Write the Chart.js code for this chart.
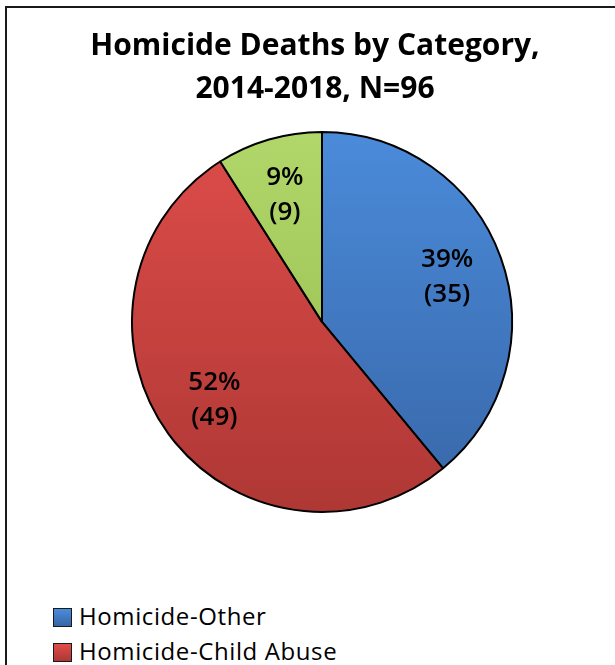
<!DOCTYPE html>
<html>
<head>
<meta charset="utf-8">
<script src="https://cdn.jsdelivr.net/npm/chart.js@4.4.0/dist/chart.umd.min.js"></script>
<style>
  html, body { margin: 0; padding: 0; background: #fff; overflow: hidden; }
  #frame { position: absolute; left: 5px; top: 6px; width: 616px; height: 701px; border: 2px solid #1a1a1a; }
  #frame canvas { display: block; }
  #legend { position: absolute; left: 46px; top: 590px; font-family: 'Open Sans'; font-size: 24px; letter-spacing: 0.6px; color: #000; }
  #legend .item { display: flex; align-items: center; height: 35px; white-space: nowrap; }
  #legend .box { width: 17px; height: 17px; border: 1px solid #1a1a1a; margin-right: 7px; margin-top: 3px; }
</style>
</head>
<body>
<div id="frame">
  <canvas id="chart" width="616" height="515"></canvas>
  <div id="legend"></div>
</div>
<script>
// data (third category is cut off in the legend)
var categories = ['Homicide-Other', 'Homicide-Child Abuse', 'Homicide-Unknown'];
var percents = [39, 52, 9];
var counts = [35, 49, 9];

// top / bottom shades of each slice
var topColors = ['#4b8cdb', '#df4d4a', '#b2d86c'];
var bottomColors = ['#3765a6', '#ad3734', '#92b748'];

function sliceFill(context) {
    var i = context.dataIndex;
    var area = context.chart.chartArea;
    if (!area) return topColors[i];
    var g = context.chart.ctx.createLinearGradient(0, area.top, 0, area.bottom);
    g.addColorStop(0, topColors[i]);
    g.addColorStop(1, bottomColors[i]);
    return g;
}

// percent + count labels inside each slice
var sliceLabels = {
    id: 'sliceLabels',
    afterDatasetsDraw: function(chart) {
        var ctx = chart.ctx;
        var meta = chart.getDatasetMeta(0);
        ctx.save();
        ctx.fillStyle = '#000';
        ctx.font = '600 26px "Open Sans"';
        ctx.textAlign = 'center';
        ctx.textBaseline = 'middle';
        meta.data.forEach(function(arc, i) {
            var p = arc.getProps(['x', 'y', 'startAngle', 'endAngle', 'outerRadius'], true);
            var mid = (p.startAngle + p.endAngle) / 2;
            var r = p.outerRadius * 0.7;
            var x = p.x + Math.cos(mid) * r;
            var y = p.y + Math.sin(mid) * r;
            ctx.fillText(percents[i] + '%', x, y - 17);
            ctx.fillText('(' + counts[i] + ')', x, y + 18);
        });
        ctx.restore();
    }
};

var ctx = document.getElementById('chart');
var chart = new Chart(ctx, {
    type: 'pie',
    data: {
        labels: categories,
        datasets: [{
            data: percents,
            backgroundColor: sliceFill,
            borderColor: '#000',
            borderWidth: 2,
            radius: 190
        }]
    },
    plugins: [sliceLabels],
    options: {
        responsive: false,
        animation: false,
        events: [],
        plugins: {
            title: {
                display: true,
                text: ['Homicide Deaths by Category,', '2014-2018, N=96'],
                color: '#000',
                font: { family: 'Open Sans', size: 30, weight: 'bold', lineHeight: 1.43 },
                padding: { top: 17, bottom: 10 }
            },
            // empty box on the left nudges the pie right of the title centre
            subtitle: {
                display: true,
                position: 'left',
                fullSize: false,
                text: '',
                font: { size: 1, lineHeight: 1 },
                padding: { top: 0, bottom: 13 }
            },
            legend: { display: false },
            tooltip: { enabled: false }
        }
    }
});

// legend drawn as html from the chart's own legend items
var legendEl = document.getElementById('legend');
Chart.overrides.pie.plugins.legend.labels.generateLabels(chart).forEach(function(item, i) {
    var row = document.createElement('div');
    row.className = 'item';
    var box = document.createElement('span');
    box.className = 'box';
    box.style.background = 'linear-gradient(' + topColors[i] + ', ' + bottomColors[i] + ')';
    var txt = document.createElement('span');
    txt.textContent = item.text;
    row.appendChild(box);
    row.appendChild(txt);
    legendEl.appendChild(row);
});
</script>
</body>
</html>
